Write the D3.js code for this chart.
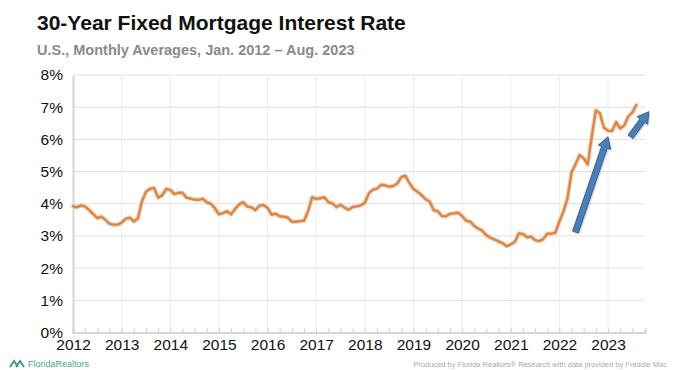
<!DOCTYPE html>
<html>
<head>
<meta charset="utf-8">
<script src="https://cdn.jsdelivr.net/npm/d3@7"></script>
<style>
  body { margin: 0; background: #fff; }
  svg { font-family: "Liberation Sans", Arial, sans-serif; display: block; }
</style>
</head>
<body>
<svg id="chart" width="700" height="370"></svg>
<script>
// monthly averages, Jan 2012 .. Aug 2023
var rates2012 = [3.92, 3.89, 3.95, 3.91, 3.80, 3.68, 3.55, 3.60, 3.50, 3.38, 3.35, 3.35];
var rates2013 = [3.41, 3.53, 3.57, 3.45, 3.54, 4.07, 4.37, 4.46, 4.49, 4.19, 4.26, 4.46];
var rates2014 = [4.43, 4.30, 4.34, 4.34, 4.19, 4.16, 4.13, 4.12, 4.16, 4.04, 4.00, 3.86];
var rates2015 = [3.67, 3.71, 3.77, 3.67, 3.84, 3.98, 4.05, 3.91, 3.89, 3.80, 3.94, 3.96];
var rates2016 = [3.87, 3.66, 3.69, 3.61, 3.60, 3.57, 3.44, 3.44, 3.46, 3.47, 3.77, 4.20];
var rates2017 = [4.15, 4.17, 4.20, 4.05, 4.01, 3.90, 3.97, 3.88, 3.81, 3.90, 3.92, 3.95];
var rates2018 = [4.03, 4.33, 4.44, 4.47, 4.59, 4.57, 4.53, 4.55, 4.63, 4.83, 4.87, 4.64];
var rates2019 = [4.46, 4.37, 4.27, 4.14, 4.07, 3.80, 3.77, 3.62, 3.61, 3.69, 3.70, 3.72];
var rates2020 = [3.62, 3.47, 3.45, 3.31, 3.23, 3.16, 3.02, 2.94, 2.89, 2.83, 2.77, 2.68];
var rates2021 = [2.74, 2.81, 3.08, 3.06, 2.96, 2.98, 2.87, 2.84, 2.90, 3.07, 3.07, 3.10];
var rates2022 = [3.45, 3.76, 4.17, 4.98, 5.23, 5.52, 5.41, 5.22, 6.11, 6.90, 6.81, 6.36];
var rates2023 = [6.27, 6.26, 6.54, 6.34, 6.43, 6.71, 6.84, 7.07];

var yearTicks = d3.range(2012, 2024);
var pctTicks = d3.range(0, 9);

// the two blue arrows, in chart units (year, percent)
var arrows = [
  { x0: 2022.33, y0: 3.12, x1: 2023.0, y1: 6.08 },
  { x0: 2023.46, y0: 6.08, x1: 2023.84, y1: 6.86 }
];

var title = "30-Year Fixed Mortgage Interest Rate";
var subtitle = "U.S., Monthly Averages, Jan. 2012 \u2013 Aug. 2023";
var credit = "Produced by Florida Realtors\u00ae Research with data provided by Freddie Mac";

var allRates = [].concat(rates2012, rates2013, rates2014, rates2015, rates2016, rates2017,
  rates2018, rates2019, rates2020, rates2021, rates2022, rates2023);
var data = allRates.map(function(v, i) { return { t: 2012 + i / 12, v: v }; });

var svg = d3.select("#chart");

var x = d3.scaleLinear().domain([2012, 2023.76]).range([73, 645]);
var y = d3.scaleLinear().domain([0, 8]).range([332.5, 75]);

// titles
svg.append("text").attr("x", 37).attr("y", 30)
  .attr("font-size", 21).attr("font-weight", "bold").attr("fill", "#111")
  .text(title);
svg.append("text").attr("x", 37).attr("y", 55)
  .attr("font-size", 14.5).attr("font-weight", "bold").attr("fill", "#8a8a8a")
  .text(subtitle);

// grid
var grid = svg.append("g");
grid.selectAll("line.h").data(pctTicks.slice(1)).enter().append("line")
  .attr("x1", x(2012)).attr("x2", x.range()[1])
  .attr("y1", function(d) { return y(d); }).attr("y2", function(d) { return y(d); })
  .attr("stroke", "#e0e0e0").attr("stroke-width", 1);
grid.selectAll("line.v").data(yearTicks.slice(1)).enter().append("line")
  .attr("x1", function(d) { return x(d); }).attr("x2", function(d) { return x(d); })
  .attr("y1", y(8)).attr("y2", y(0))
  .attr("stroke", "#ececec").attr("stroke-width", 1);

// y axis
var yAxis = svg.append("g").attr("transform", "translate(" + x(2012) + ",0)")
  .call(d3.axisLeft(y).tickValues(pctTicks).tickSize(0).tickPadding(10)
    .tickFormat(function(d) { return d + "%"; }));
yAxis.select(".domain").attr("stroke", "#d6d6d6").attr("stroke-width", 2);
yAxis.selectAll("text").attr("font-size", 15.5).attr("fill", "#111")
  .attr("font-family", "Liberation Sans, Arial, sans-serif");

// x axis with quarterly minor ticks pointing up
var quarters = d3.range(0, 47).map(function(i) { return 2012 + i / 4; });
var xAxis = svg.append("g").attr("transform", "translate(0," + y(0) + ")")
  .call(d3.axisTop(x).tickValues(quarters).tickSize(4).tickFormat(""));
xAxis.select(".domain").attr("stroke", "#d6d6d6").attr("stroke-width", 2);
xAxis.selectAll(".tick line").attr("stroke", "#cfcfcf");

var xLabels = svg.append("g").attr("transform", "translate(0," + y(0) + ")")
  .call(d3.axisBottom(x).tickValues(yearTicks).tickSize(0).tickPadding(6)
    .tickFormat(d3.format("d")));
xLabels.select(".domain").remove();
xLabels.selectAll("text").attr("font-size", 15.5).attr("fill", "#111")
  .attr("font-family", "Liberation Sans, Arial, sans-serif");

// the rate line
var line = d3.line()
  .x(function(d) { return x(d.t); })
  .y(function(d) { return y(d.v); });

svg.append("path").datum(data)
  .attr("fill", "none").attr("stroke", "#f0c3a0").attr("stroke-width", 4.5)
  .attr("stroke-linejoin", "round").attr("stroke-linecap", "round")
  .attr("opacity", 0.7).attr("d", line);
svg.append("path").datum(data)
  .attr("fill", "none").attr("stroke", "#dc8646").attr("stroke-width", 2.4)
  .attr("stroke-linejoin", "round").attr("stroke-linecap", "round")
  .attr("d", line);

// arrows
function arrowPath(a) {
  var x0 = x(a.x0), y0 = y(a.y0), x1 = x(a.x1), y1 = y(a.y1);
  var dx = x1 - x0, dy = y1 - y0, len = Math.sqrt(dx * dx + dy * dy);
  var ux = dx / len, uy = dy / len, px = -uy, py = ux;
  var sw = 3, hw = 6.5, hl = 11;
  var bx = x1 - ux * hl, by = y1 - uy * hl;
  var pts = [
    [x0 + px * sw, y0 + py * sw], [bx + px * sw, by + py * sw],
    [bx + px * hw, by + py * hw], [x1, y1],
    [bx - px * hw, by - py * hw], [bx - px * sw, by - py * sw],
    [x0 - px * sw, y0 - py * sw]
  ];
  return "M" + pts.map(function(p) { return p[0].toFixed(1) + "," + p[1].toFixed(1); }).join("L") + "Z";
}

svg.selectAll("path.shadow").data(arrows).enter().append("path")
  .attr("d", arrowPath).attr("transform", "translate(1.5,1.5)")
  .attr("fill", "#000").attr("opacity", 0.15);
svg.selectAll("path.arrow").data(arrows).enter().append("path")
  .attr("d", arrowPath)
  .attr("fill", "#4a80b8").attr("stroke", "#34608f").attr("stroke-width", 1)
  .attr("stroke-linejoin", "miter");

// footer at the bottom edge
var logo = svg.append("g").attr("transform", "translate(10,361)");
logo.append("path").attr("d", "M0,6 L4,0 L8,6 M6,6 L10,0 L14,6")
  .attr("fill", "none").attr("stroke", "#3b9a8a").attr("stroke-width", 2);
svg.append("text").attr("x", 28).attr("y", 367)
  .attr("font-size", 9).attr("fill", "#4aa59a").text("FloridaRealtors");
svg.append("text").attr("x", 667).attr("y", 367).attr("text-anchor", "end")
  .attr("font-size", 7.5).attr("fill", "#aaa").text(credit);
</script>
</body>
</html>
